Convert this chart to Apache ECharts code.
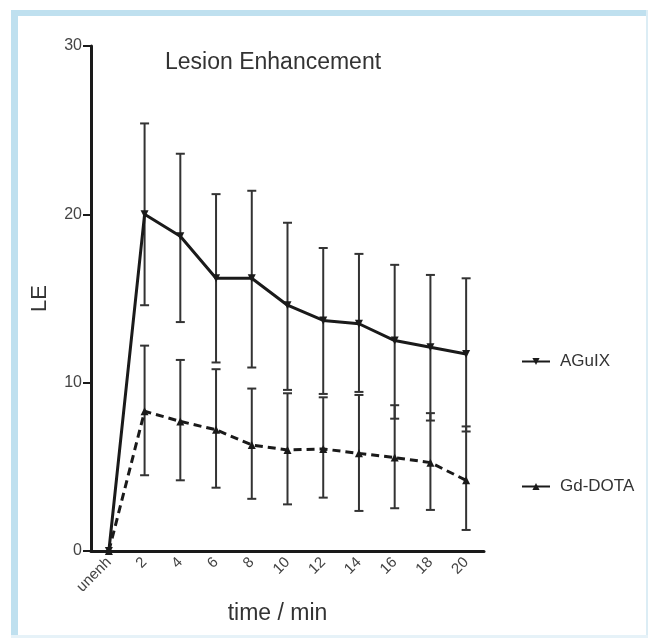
<!DOCTYPE html>
<html>
<head>
<meta charset="utf-8">
<script src="https://cdn.jsdelivr.net/npm/echarts@6/dist/echarts.min.js"></script>
<style>
html,body{margin:0;padding:0;background:#fff;}
#c{width:648px;height:638px;}
</style>
</head>
<body>
<div id="c"></div>
<script>
var categories = ['unenh','2','4','6','8','10','12','14','16','18','20'];
var yTicks = [0, 10, 20, 30];
var aguixMean  = [0, 20.0, 18.7, 16.2, 16.2, 14.6, 13.7, 13.5, 12.5, 12.1, 11.7];
var aguixUpper = [null, 25.4, 23.6, 21.2, 21.4, 19.5, 18.0, 17.65, 17.0, 16.4, 16.2];
var aguixLower = [null, 14.6, 13.6, 11.2, 10.9, 9.57, 9.33, 9.45, 7.86, 7.75, 7.1];
var gdMean  = [0, 8.3, 7.7, 7.2, 6.3, 6.0, 6.06, 5.8, 5.55, 5.25, 4.2];
var gdUpper = [null, 12.2, 11.35, 10.8, 9.65, 9.37, 9.13, 9.27, 8.66, 8.19, 7.4];
var gdLower = [null, 4.5, 4.2, 3.76, 3.1, 2.77, 3.17, 2.38, 2.54, 2.44, 1.25];

function errData(lo, hi){
  var out = [];
  for (var i = 0; i < categories.length; i++) {
    if (lo[i] != null && hi[i] != null) out.push([i, lo[i], hi[i]]);
  }
  return out;
}
function renderErr(params, api){
  var x = api.value(0), lo = api.value(1), hi = api.value(2);
  var a = api.coord([x, lo]), b = api.coord([x, hi]);
  var w = 4.5, st = {stroke:'#333', lineWidth:2};
  return {type:'group', children:[
    {type:'line', shape:{x1:a[0], y1:a[1], x2:b[0], y2:b[1]}, style:st},
    {type:'line', shape:{x1:a[0]-w, y1:a[1], x2:a[0]+w, y2:a[1]}, style:st},
    {type:'line', shape:{x1:b[0]-w, y1:b[1], x2:b[0]+w, y2:b[1]}, style:st}
  ]};
}

var chart = echarts.init(document.getElementById('c'), null, {renderer:'canvas'});
var FONT = 'Liberation Sans';
chart.setOption({
  backgroundColor:'#fff',
  animation:false,
  textStyle:{fontFamily:FONT},
  title:{text:'Lesion Enhancement', left:165, top:51, padding:0,
    textStyle:{fontFamily:FONT, fontSize:23, fontWeight:'normal', color:'#333'}},
  graphic:[
    {type:'rect', shape:{x:11, y:10, width:637, height:6}, style:{fill:'#bfe0ef'}, silent:true},
    {type:'rect', shape:{x:11, y:10, width:7, height:628}, style:{fill:'#bfe0ef'}, silent:true},
    {type:'rect', shape:{x:646, y:10, width:2, height:628}, style:{fill:'#dcedf5'}, silent:true},
    {type:'rect', shape:{x:11, y:635, width:637, height:3}, style:{fill:'#e6f2f8'}, silent:true}
  ],
  legend:[
    {data:['AGuIX'], left:516, top:348, itemWidth:28, itemHeight:9, itemGap:10,
     lineStyle:{type:'solid'},
     textStyle:{fontFamily:FONT, fontSize:17, color:'#333', padding:[0,0,0,5]}},
    {data:['Gd-DOTA'], left:516, top:473, itemWidth:28, itemHeight:9, itemGap:10,
     lineStyle:{type:'solid'},
     textStyle:{fontFamily:FONT, fontSize:17, color:'#333', padding:[0,0,0,5]}}
  ],
  grid:{left:91, right:164, top:46, bottom:87, containLabel:false},
  xAxis:{
    type:'category', data:categories, boundaryGap:true,
    name:'time / min', nameLocation:'middle', nameGap:49,
    nameTextStyle:{fontFamily:FONT, fontSize:23, color:'#333', padding:[0,20,0,0]},
    axisLine:{lineStyle:{color:'#1a1a1a', width:3}},
    axisTick:{alignWithLabel:true, length:7, lineStyle:{color:'#1a1a1a', width:2}},
    axisLabel:{rotate:45, fontSize:15, color:'#444', margin:9, interval:0}
  },
  yAxis:{
    type:'value', min:yTicks[0], max:yTicks[yTicks.length-1], interval:10,
    name:'LE', nameLocation:'middle', nameGap:40,
    nameTextStyle:{fontFamily:FONT, fontSize:22, color:'#333'},
    splitLine:{show:false},
    axisLine:{show:true, lineStyle:{color:'#1a1a1a', width:3}},
    axisTick:{show:true, length:8, lineStyle:{color:'#1a1a1a', width:2}},
    axisLabel:{fontSize:16, color:'#444', margin:9}
  },
  series:[
    {name:'AGuIX err', type:'custom', renderItem:renderErr, data:errData(aguixLower, aguixUpper), z:2,
     encode:{x:0, y:[1,2]}},
    {name:'Gd-DOTA err', type:'custom', renderItem:renderErr, data:errData(gdLower, gdUpper), z:2,
     encode:{x:0, y:[1,2]}},
    {name:'AGuIX', type:'line', data:aguixMean, symbol:'triangle', symbolSize:8, symbolRotate:180,
     lineStyle:{color:'#1a1a1a', width:3}, itemStyle:{color:'#1a1a1a'}, z:3},
    {name:'Gd-DOTA', type:'line', data:gdMean, symbol:'triangle', symbolSize:8,
     lineStyle:{color:'#1a1a1a', width:3, type:[8,5]}, itemStyle:{color:'#1a1a1a'}, z:3}
  ]
});
</script>
</body>
</html>
